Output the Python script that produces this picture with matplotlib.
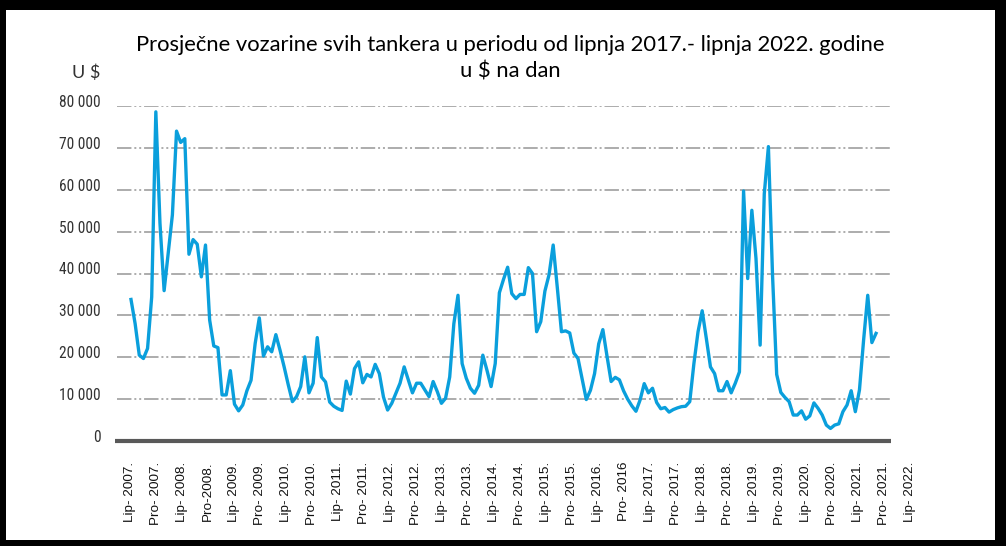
import matplotlib
matplotlib.use("Agg")
import matplotlib.pyplot as plt
import numpy as np
from matplotlib.patches import Rectangle
from matplotlib.transforms import ScaledTranslation
from matplotlib import font_manager

# ---- data (monthly, June 2007 - June 2022), US$ per day ----
rates = [
    33800, 28000, 20500, 19700, 22100, 34400, 78600, 52000, 35900, 45000,
    54000, 74000, 71300, 72200, 44600, 48100, 47000, 39200, 46800, 28900,
    22700, 22300, 11000, 11000, 16800, 8800, 7200, 8600, 12000, 14500,
    23300, 29400, 20300, 22500, 21300, 25400, 21700, 17700, 13400, 9400,
    10600, 13000, 20100, 11500, 13800, 24700, 15300, 14100, 9300, 8300,
    7700, 7300, 14300, 11200, 17300, 18900, 13900, 15900, 15300, 18300,
    16100, 10500, 7400, 9000, 11400, 13800, 17700, 14600, 11500, 13800,
    13800, 12200, 10600, 14200, 11800, 9000, 10200, 15300, 28000, 34800,
    18500, 15000, 12600, 11400, 13300, 20500, 16900, 13000, 18500, 35400,
    38600, 41500, 35200, 34000, 35000, 35000, 41400, 40000, 26100, 28500,
    35800, 39700, 46800, 36600, 26100, 26300, 25800, 21000, 19700, 14800,
    9900, 12100, 16100, 23200, 26600, 20300, 14200, 15200, 14600, 12000,
    10000, 8400, 7100, 9800, 13700, 11500, 12600, 9200, 7700, 8000,
    6900, 7500, 7900, 8200, 8300, 9400, 18500, 26100, 31100, 24500,
    17700, 16100, 12000, 12000, 14200, 11500, 13800, 16500, 59700, 38800,
    55100, 43600, 22900, 59000, 70300, 39500, 15900, 11600, 10400, 9400,
    6200, 6200, 7200, 5200, 6000, 9100, 7800, 6200, 3800, 3000,
    3800, 4100, 7000, 8600, 12000, 7000, 12200, 24100, 34800, 23500,
    25700,
]
x_labels = [
    "Lip- 2007.", "Pro- 2007.", "Lip- 2008.", "Pro-2008.", "Lip- 2009.",
    "Pro- 2009.", "Lip- 2010.", "Pro- 2010.", "Lip- 2011.", "Pro- 2011.",
    "Lip- 2012.", "Pro- 2012.", "Lip- 2013.", "Pro- 2013.", "Lip- 2014.",
    "Pro- 2014.", "Lip- 2015.", "Pro- 2015.", "Lip- 2016.", "Pro- 2016",
    "Lip- 2017.", "Pro- 2017.", "Lip- 2018.", "Pro- 2018.", "Lip- 2019.",
    "Pro- 2019.", "Lip- 2020.", "Pro- 2020.", "Lip- 2021.", "Pro- 2021.",
    "Lip- 2022.",
]
y_ticks = [0, 10000, 20000, 30000, 40000, 50000, 60000, 70000, 80000]
y_tick_labels = ["0", "10 000", "20 000", "30 000", "40 000", "50 000",
                 "60 000", "70 000", "80 000"]
title = "Prosječne vozarine svih tankera u periodu od lipnja 2017.- lipnja 2022. godine\nu $ na dan"
unit_label = "U $"


def pick_font(candidates, default):
    for name in candidates:
        try:
            font_manager.findfont(font_manager.FontProperties(family=name),
                                  fallback_to_default=False)
            return name
        except Exception:
            continue
    return default


narrow = pick_font(["Liberation Sans Narrow", "DejaVu Sans Condensed", "Roboto Condensed"], None)
if narrow is None:
    ytick_family, ytick_size = "Liberation Sans", 10.0
else:
    ytick_family, ytick_size = narrow, 11.2

# ---- layout ----
W, H = 1006, 546
fig = plt.figure(figsize=(W / 100, H / 100), dpi=100)
fig.patch.set_facecolor("white")

# black frame
fig.patches.append(Rectangle((0, 0), 1, 1, transform=fig.transFigure,
                             facecolor="black", edgecolor="none", zorder=-10))
fig.patches.append(Rectangle((6 / W, (H - 540) / H), (995 - 6) / W, (540 - 10) / H,
                             transform=fig.transFigure, facecolor="white",
                             edgecolor="none", zorder=-9))

px_per_month = 4.139
data_x0 = 131
ax_left_px, ax_right_px = 117, 920
ax_top_px, ax_bot_px = 106, 441
ax = fig.add_axes([ax_left_px / W, (H - ax_bot_px) / H,
                   (ax_right_px - ax_left_px) / W, (ax_bot_px - ax_top_px) / H])
ax.set_facecolor("none")
xmin = (ax_left_px - data_x0) / px_per_month
xmax = (ax_right_px - data_x0) / px_per_month
grid_end = (890 - data_x0) / px_per_month
ax.set_xlim(xmin, xmax)
ax.set_ylim(0, 80000)

for s in ax.spines.values():
    s.set_visible(False)

# gridlines
ax.hlines(y_ticks[1:], xmin, grid_end, colors="#A6A6A6", linewidth=1.3,
          linestyles=[(0, (8, 1.6, 1.1, 1.6, 1.1, 1.6))], zorder=1)
# baseline
ax.hlines(0, xmin - 0.4, grid_end + 0.2, colors="#595959", linewidth=3.0,
          zorder=2, clip_on=False)

months = np.arange(len(rates))
ax.plot(months, rates, color="#0A9FDC", linewidth=2.4, solid_joinstyle="round",
        zorder=3)

# y ticks
ax.set_yticks(y_ticks)
ax.set_yticklabels(y_tick_labels, fontsize=ytick_size, color="#333333",
                   family=[ytick_family, "DejaVu Sans"])
ax.tick_params(axis="y", length=0, pad=12)
for lab in ax.get_yticklabels():
    lab.set_transform(lab.get_transform() + ScaledTranslation(0, 0.05, fig.dpi_scale_trans))

# x ticks (category labels every 6 months)
label_x0, label_step = 130, 26
tick_pos = [(label_x0 + label_step * k - data_x0) / px_per_month for k in range(len(x_labels))]
ax.set_xticks(tick_pos)
ax.set_xticklabels(x_labels, rotation=90, fontsize=9.7, color="#111111",
                   family=["Liberation Sans", "DejaVu Sans"], va="top", ha="center")
ax.tick_params(axis="x", length=0, pad=15)

# title and unit
fig.text(510 / W, 1 - 58 / H, title, ha="center", va="center", fontsize=15.8,
         family=["Lato", "DejaVu Sans"], color="black", linespacing=1.38)
fig.text(100 / W, 1 - 73 / H, unit_label, ha="right", va="center", fontsize=13,
         family=["Lato", "DejaVu Sans"], color="#333333")

fig.savefig("out.png", dpi=100)
